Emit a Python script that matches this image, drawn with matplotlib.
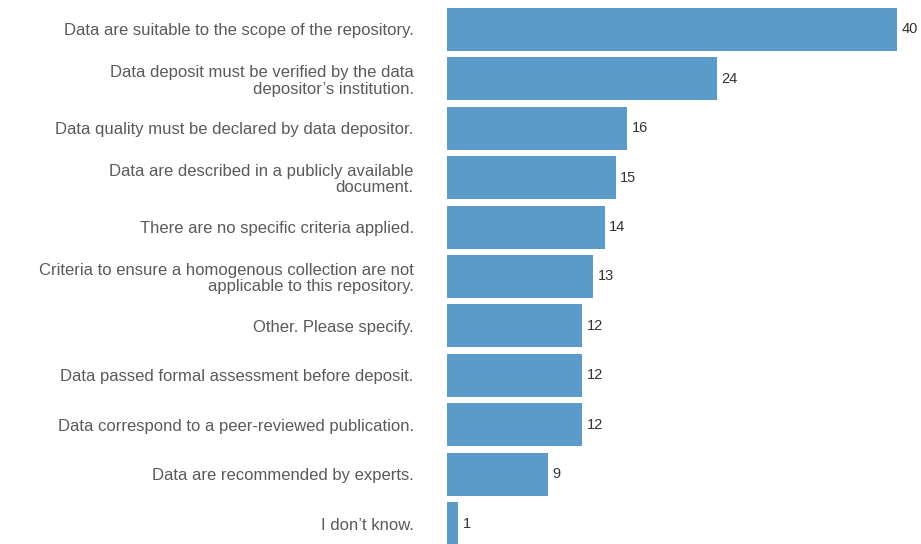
import numpy as np
from matplotlib import pyplot as plt
import matplotlib

matplotlib.rcParams['font.family'] = ['Liberation Sans', 'DejaVu Sans']

categories = ['Data are suitable to the scope of the repository.',
              'Data deposit must be verified by the data\ndepositor\u2019s institution.',
              'Data quality must be declared by data depositor.',
              'Data are described in a publicly available\ndocument.',
              'There are no specific criteria applied.',
              'Criteria to ensure a homogenous collection are not\napplicable to this repository.',
              'Other. Please specify.',
              'Data passed formal assessment before deposit.',
              'Data correspond to a peer-reviewed publication.',
              'Data are recommended by experts.',
              'I don\u2019t know.']
counts = [40, 24, 16, 15, 14, 13, 12, 12, 12, 9, 1]

fig = plt.figure(figsize=(9.21, 5.44), dpi=100)
ax = fig.add_axes([447/921, -4.2/544, 450/921, 543.4/544])

y = np.arange(len(categories))
ax.barh(y, counts, height=0.87, color='#5b9bca')
ax.set_xlim(0, 40)
ax.set_ylim(10.5, -0.5)

for yi, v in zip(y, counts):
    ax.text(v + 0.4, yi, str(v), va='center', ha='left', fontsize=10.5, color='#333333')

ax.set_yticks(y)
ax.set_yticklabels(categories, fontsize=12, color='#5a5a5a', ha='right', linespacing=1.1)
ax.tick_params(axis='y', length=0, pad=24)
ax.set_xticks([])
for s in ax.spines.values():
    s.set_visible(False)

plt.savefig('out.png', dpi=100)
